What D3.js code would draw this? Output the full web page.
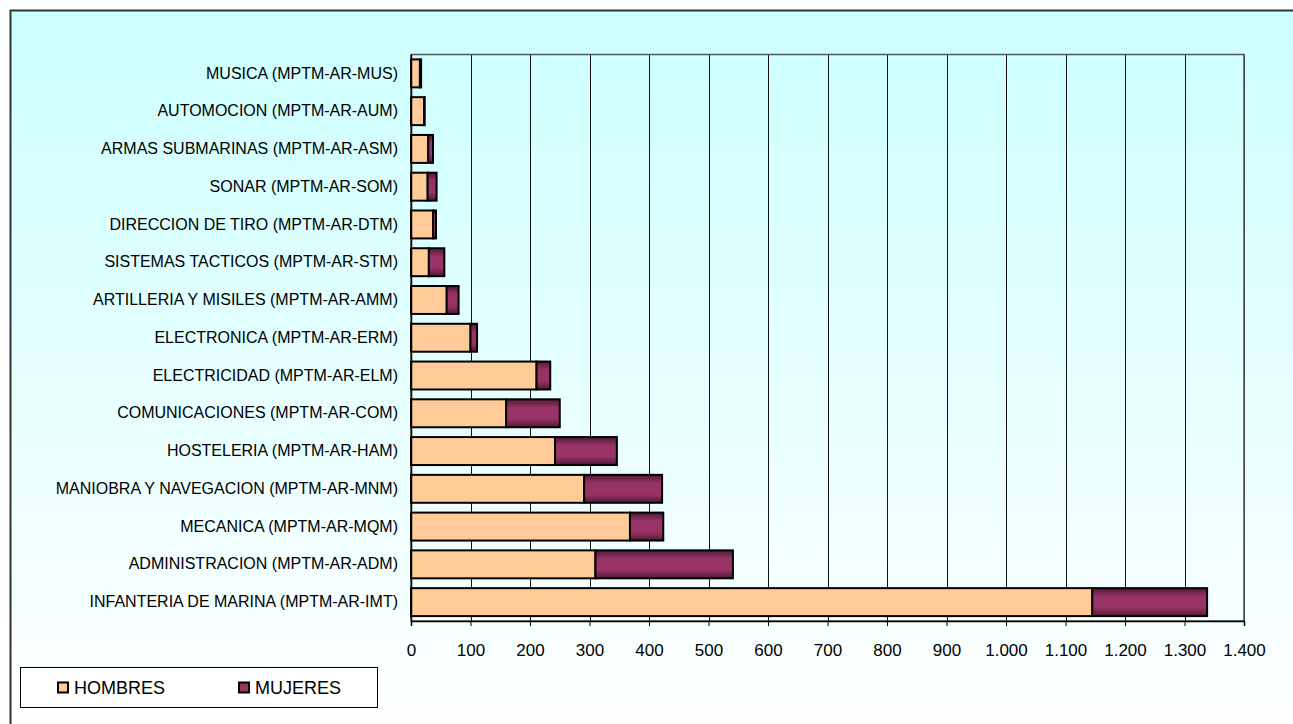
<!DOCTYPE html>
<html><head><meta charset="utf-8">
<script src="https://cdn.jsdelivr.net/npm/d3@7"></script>
<style>body{margin:0;background:#fff;}svg{display:block;font-family:"Liberation Sans",Arial,sans-serif;}</style>
</head><body>
<script>
const categories = [
 "MUSICA (MPTM-AR-MUS)","AUTOMOCION (MPTM-AR-AUM)","ARMAS SUBMARINAS (MPTM-AR-ASM)",
 "SONAR (MPTM-AR-SOM)","DIRECCION DE TIRO (MPTM-AR-DTM)","SISTEMAS TACTICOS (MPTM-AR-STM)",
 "ARTILLERIA Y MISILES (MPTM-AR-AMM)","ELECTRONICA (MPTM-AR-ERM)","ELECTRICIDAD (MPTM-AR-ELM)",
 "COMUNICACIONES (MPTM-AR-COM)","HOSTELERIA (MPTM-AR-HAM)","MANIOBRA Y NAVEGACION (MPTM-AR-MNM)",
 "MECANICA (MPTM-AR-MQM)","ADMINISTRACION (MPTM-AR-ADM)","INFANTERIA DE MARINA (MPTM-AR-IMT)"];
const hombres = [15, 22, 29, 28, 37, 30, 60, 100, 211, 160, 242, 291, 368, 310, 1145];
const mujeres = [2, 1, 8, 15, 5, 26, 20, 11, 23, 90, 104, 131, 56, 231, 193];
const seriesNames = ["HOMBRES","MUJERES"];
const tickValues = [0,100,200,300,400,500,600,700,800,900,1000,1100,1200,1300,1400];
const tickLabels = ["0","100","200","300","400","500","600","700","800","900","1.000","1.100","1.200","1.300","1.400"];

const W=1293,H=724;
const svg=d3.select("body").append("svg").attr("width",W).attr("height",H);
const defs=svg.append("defs");
const bg=defs.append("linearGradient").attr("id","bg").attr("x1",0).attr("y1",0).attr("x2",0).attr("y2",1);
bg.append("stop").attr("offset","0%").attr("stop-color","#CCFFFF");
bg.append("stop").attr("offset","100%").attr("stop-color","#FFFFFF");
const mg=defs.append("linearGradient").attr("id","mg").attr("x1",0).attr("y1",0).attr("x2",0).attr("y2",1);
mg.append("stop").attr("offset","0%").attr("stop-color","#4d1a33");
mg.append("stop").attr("offset","30%").attr("stop-color","#993366");
mg.append("stop").attr("offset","70%").attr("stop-color","#993366");
mg.append("stop").attr("offset","100%").attr("stop-color","#4d1a33");

svg.append("rect").attr("x",10.5).attr("y",10.5).attr("width",W).attr("height",H)
  .attr("fill","url(#bg)").attr("stroke","#333").attr("stroke-width",2);

const L=411,R=1244,T=54.5,B=621;
const x=d3.scaleLinear().domain([0,1400]).range([L,R]);
const y=d3.scaleBand().domain(categories).range([T,B]).paddingInner(0.26).paddingOuter(0.13);

// grid
svg.append("g").selectAll("line").data(tickValues.slice(1)).join("line")
  .attr("x1",d=>Math.round(x(d))+0.5).attr("x2",d=>Math.round(x(d))+0.5).attr("y1",T).attr("y2",B)
  .attr("stroke","#111").attr("stroke-width",1);
// plot border
svg.append("rect").attr("x",L).attr("y",T).attr("width",R-L).attr("height",B-T)
  .attr("fill","none").attr("stroke","#555").attr("stroke-width",1.5);

// bars
const data=categories.map((c,i)=>({c,h:hombres[i],m:mujeres[i]}));
const g=svg.append("g");
g.selectAll("rect.h").data(data).join("rect").attr("class","h")
  .attr("x",x(0)).attr("y",d=>y(d.c)).attr("width",d=>x(d.h)-x(0)).attr("height",y.bandwidth())
  .attr("fill","#FFCC99").attr("stroke","#000").attr("stroke-width",2);
g.selectAll("rect.m").data(data).join("rect").attr("class","m")
  .attr("x",d=>x(d.h)).attr("y",d=>y(d.c)).attr("width",d=>x(d.h+d.m)-x(d.h)).attr("height",y.bandwidth())
  .attr("fill","url(#mg)").attr("stroke","#000").attr("stroke-width",2);

// axes
const xa=svg.append("g").attr("transform",`translate(0,${B})`)
  .call(d3.axisBottom(x).tickValues(tickValues).tickFormat((d,i)=>tickLabels[i]).tickSize(5).tickPadding(18));
xa.select(".domain").attr("stroke","#000").attr("stroke-width",1.5);
xa.selectAll(".tick line").attr("stroke","#000");
xa.selectAll("text").attr("font-size",17).attr("fill","#000").attr("font-family","Liberation Sans, Arial, sans-serif");

const ya=svg.append("g").attr("transform",`translate(${L},0)`)
  .call(d3.axisLeft(y).tickSize(0).tickPadding(13));
ya.select(".domain").attr("stroke","#000").attr("stroke-width",1.5);
ya.selectAll("text").attr("font-size",16).attr("fill","#000").attr("font-family","Liberation Sans, Arial, sans-serif");

// legend
const lg=svg.append("g");
lg.append("rect").attr("x",20.5).attr("y",667.5).attr("width",357).attr("height",40)
  .attr("fill","#fff").attr("stroke","#000").attr("stroke-width",1);
const lx=[58,239];
seriesNames.forEach((n,i)=>{
  lg.append("rect").attr("x",lx[i]).attr("y",682.5).attr("width",10).attr("height",10)
    .attr("fill",i===0?"#FFCC99":"#993366").attr("stroke","#000").attr("stroke-width",2);
  lg.append("text").attr("x",lx[i]+16).attr("y",694).attr("font-size",18).attr("fill","#000").text(n);
});
</script>
</body></html>
